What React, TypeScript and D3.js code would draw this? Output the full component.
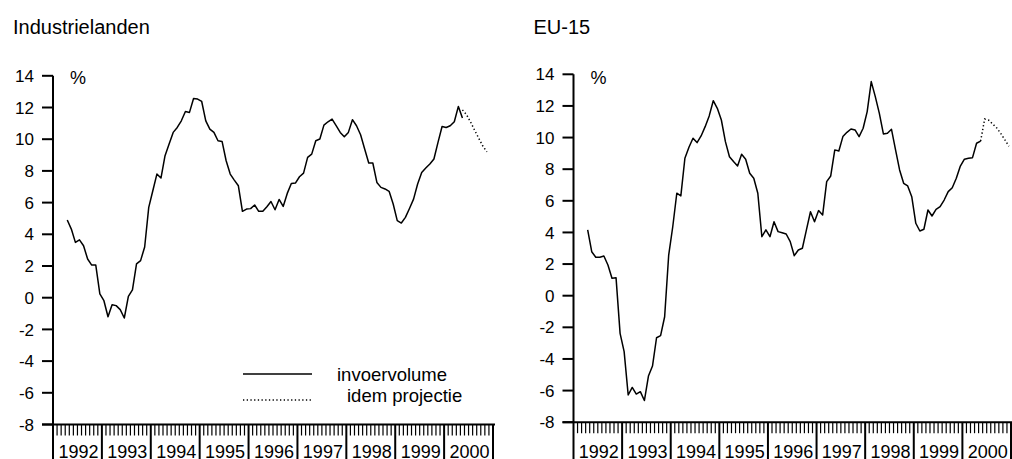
import React from 'react';
import * as d3 from 'd3';

const years = [1992, 1993, 1994, 1995, 1996, 1997, 1998, 1999, 2000];
const yTicks = [14, 12, 10, 8, 6, 4, 2, 0, -2, -4, -6, -8];

// month index 0 = Jan 1992
const industrieStart = 3;
const industrieVolume = [
  4.9, 4.33, 3.49, 3.65, 3.28, 2.44, 2.06, 2.06, 0.24, -0.19, -1.2, -0.44, -0.5, -0.75, -1.28, 0.08,
  0.49, 2.13, 2.34, 3.2, 5.7, 6.75, 7.8, 7.55, 8.96, 9.69, 10.43, 10.74, 11.16, 11.75, 11.69, 12.57,
  12.53, 12.38, 11.16, 10.64, 10.43, 9.9, 9.86, 8.64, 7.8, 7.42, 7.06, 5.45, 5.59, 5.62, 5.85, 5.45,
  5.45, 5.74, 6.07, 5.55, 6.2, 5.76, 6.58, 7.21, 7.23, 7.63, 7.86, 8.85, 9.06, 9.9, 10.01, 10.89,
  11.1, 11.27, 10.85, 10.43, 10.15, 10.43, 11.23, 10.85, 10.28, 9.38, 8.5, 8.5, 7.27, 6.96, 6.86, 6.71,
  5.91, 4.86, 4.71, 5.07, 5.63, 6.22, 7.17, 7.9, 8.18, 8.43, 8.75, 9.8, 10.8, 10.74, 10.85, 11.1,
  12.07, 11.33,
];
const industrieProjStart = 100;
const industrieProjectie = [11.85, 11.55, 11.08, 10.56, 10.06, 9.57, 9.2];

const euStart = 3;
const euVolume = [
  4.16, 2.78, 2.43, 2.43, 2.51, 1.94, 1.1, 1.14, -2.38, -3.54, -6.28, -5.8, -6.22, -6.07, -6.63, -5.08,
  -4.45, -2.66, -2.53, -1.33, 2.57, 4.36, 6.48, 6.31, 8.69, 9.39, 9.96, 9.68, 10.1, 10.69, 11.37, 12.33,
  11.85, 11.11, 9.74, 8.79, 8.48, 8.2, 8.94, 8.63, 7.74, 7.43, 6.48, 3.73, 4.16, 3.73, 4.68, 4.05,
  3.98, 3.9, 3.42, 2.53, 2.89, 3.0, 4.16, 5.31, 4.68, 5.38, 5.1, 7.21, 7.57, 9.22, 9.15, 10.06,
  10.33, 10.54, 10.48, 10.06, 10.59, 11.64, 13.54, 12.59, 11.53, 10.23, 10.27, 10.52, 9.22, 7.95, 7.11, 6.94,
  6.26, 4.58, 4.09, 4.2, 5.42, 5.04, 5.46, 5.63, 6.05, 6.58, 6.83, 7.43, 8.2, 8.63, 8.69, 8.73,
  9.64, 9.78,
];
const euProjStart = 100;
const euProjectie = [9.78, 11.17, 11.1, 10.85, 10.6, 10.25, 9.85, 9.45];

const FONT = '"Liberation Sans", Arial, Helvetica, sans-serif';
const H = 459;

type PanelProps = {
  title: string;
  left: number;
  right: number;
  top: number;
  bottom: number;
  start: number;
  values: number[];
  projStart: number;
  projection: number[];
  legend?: boolean;
};

function Panel({ title, left, right, top, bottom, start, values, projStart, projection, legend }: PanelProps) {
  const nMonths = years.length * 12;
  const x = d3.scaleLinear().domain([0, nMonths]).range([left, right]);
  const y = d3.scaleLinear().domain([-8, 14]).range([bottom, top]);
  const line = d3
    .line<[number, number]>()
    .x((d) => x(d[0] + 0.5))
    .y((d) => y(d[1]));
  const main = values.map((v, i) => [start + i, v] as [number, number]);
  const proj = projection.map((v, i) => [projStart + i, v] as [number, number]);
  const monthTicks = d3.range(0, nMonths + 1);

  return (
    <g>
      <text x={left - 40} y={34} fontFamily={FONT} fontSize={20} fill="#000">
        {title}
      </text>
      <text x={left + 17} y={84} fontFamily={FONT} fontSize={18} fill="#000">
        %
      </text>
      {/* y axis */}
      <line x1={left} x2={left} y1={y(14)} y2={bottom} stroke="#000" strokeWidth={2} />
      {yTicks.map((t) => (
        <g key={t}>
          <line x1={left - 11} x2={left} y1={y(t)} y2={y(t)} stroke="#000" strokeWidth={2} />
          <text
            x={left - 19}
            y={y(t)}
            dy="0.36em"
            textAnchor="end"
            fontFamily={FONT}
            fontSize={17}
            fill="#000"
          >
            {t}
          </text>
        </g>
      ))}
      {/* x axis */}
      <line x1={left - 11} x2={right + 2} y1={bottom} y2={bottom} stroke="#000" strokeWidth={2} />
      {monthTicks.map((m) =>
        m % 12 === 0 ? (
          <line key={m} x1={x(m)} x2={x(m)} y1={bottom} y2={H} stroke="#000" strokeWidth={2} />
        ) : (
          <line key={m} x1={x(m)} x2={x(m)} y1={bottom} y2={bottom + 11} stroke="#000" strokeWidth={1.2} />
        )
      )}
      {years.map((yr, i) => (
        <text
          key={yr}
          x={x(i * 12 + 6) + 1}
          y={458}
          textAnchor="middle"
          fontFamily={FONT}
          fontSize={18}
          fill="#000"
        >
          {yr}
        </text>
      ))}
      <path d={line(main) || ''} fill="none" stroke="#000" strokeWidth={1.5} strokeLinejoin="round" />
      <path d={line(proj) || ''} fill="none" stroke="#000" strokeWidth={1.5} strokeDasharray="1.3 2.4" />
      {legend && (
        <g>
          <line x1={243} x2={312} y1={374} y2={374} stroke="#000" strokeWidth={1.5} />
          <text x={337} y={381} fontFamily={FONT} fontSize={18.5} fill="#000">
            invoervolume
          </text>
          <line x1={243} x2={312} y1={400} y2={400} stroke="#000" strokeWidth={1.5} strokeDasharray="1.3 2.4" />
          <text x={347} y={402} fontFamily={FONT} fontSize={18.5} fill="#000">
            idem projectie
          </text>
        </g>
      )}
    </g>
  );
}

export default function App() {
  return (
    <svg
      width={1012}
      height={459}
      viewBox="0 0 1012 459"
      style={{ position: 'fixed', left: 0, top: 0, background: '#fff' }}
    >
      <rect width={1012} height={459} fill="#fff" />
      <Panel
        title="Industrielanden"
        left={53}
        right={493}
        top={75.8}
        bottom={424.5}
        start={industrieStart}
        values={industrieVolume}
        projStart={industrieProjStart}
        projection={industrieProjectie}
        legend
      />
      <Panel
        title="EU-15"
        left={573.5}
        right={1011}
        top={74.3}
        bottom={422.2}
        start={euStart}
        values={euVolume}
        projStart={euProjStart}
        projection={euProjectie}
      />
    </svg>
  );
}
